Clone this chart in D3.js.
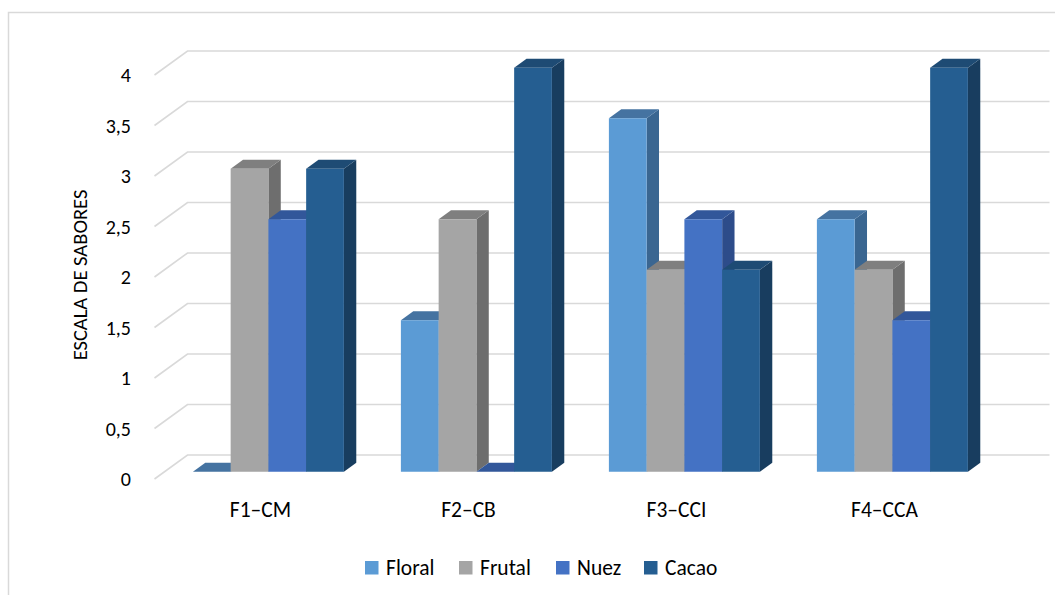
<!DOCTYPE html>
<html>
<head>
<meta charset="utf-8">
<script src="https://cdn.jsdelivr.net/npm/d3@7"></script>
<style>
  html, body { margin: 0; padding: 0; background: #fff; }
  svg { display: block; font-family: Carlito, Calibri, Lato, "Noto Sans", sans-serif; }
</style>
</head>
<body>
<svg id="chart" width="1055" height="595"></svg>
<script>
// Flavour scores per formulation
const categories = ["F1–CM", "F2–CB", "F3–CCI", "F4–CCA"];
const seriesNames = ["Floral", "Frutal", "Nuez", "Cacao"];
const floral = [0, 1.5, 3.5, 2.5];
const frutal = [3, 2.5, 2, 2];
const nuez   = [2.5, 0, 2.5, 1.5];
const cacao  = [3, 4, 2, 4];
const yTicks = [0, 0.5, 1, 1.5, 2, 2.5, 3, 3.5, 4];
const yTickLabels = ["0", "0,5", "1", "1,5", "2", "2,5", "3", "3,5", "4"];
const axisTitle = "ESCALA DE SABORES";

const seriesValues = [floral, frutal, nuez, cacao];
// front / top / side face colours for each series
const faceColors = [
  { front: "#5B9BD5", top: "#4573A1", side: "#3A6691" },
  { front: "#A5A5A5", top: "#7F7F7F", side: "#6E6E6E" },
  { front: "#4472C4", top: "#32579A", side: "#2D4C8A" },
  { front: "#255E91", top: "#1E4B74", side: "#183D5F" }
];

const svg = d3.select("#chart");

// outer chart frame
svg.append("rect")
  .attr("x", 8.5).attr("y", 12.5)
  .attr("width", 1200).attr("height", 800)
  .attr("fill", "#fff")
  .attr("stroke", "#D9D9D9").attr("stroke-width", 1.5);

// 3D projection: front plane baseline and depth vector
const frontLeft = 154.5, frontRight = 986.5;
const baseFront = 479;
const depthX = 33, depthY = -24;
const barDepth0 = 0.30, barDepth1 = 0.675;

const y = d3.scaleLinear().domain([0, 4]).range([0, 404]); // height above floor

const x0 = d3.scaleBand()
  .domain(categories)
  .range([frontLeft, frontRight])
  .paddingInner(0.274)
  .paddingOuter(0.137);

const x1 = d3.scaleBand()
  .domain(seriesNames)
  .range([0, x0.bandwidth()]);

// point on a plane at depth fraction t
function pt(x, v, t) {
  return [x + depthX * t, baseFront - y(v) + depthY * t];
}

// gridlines: left wall diagonal + back wall
const grid = svg.append("g");
yTicks.forEach(v => {
  const a = pt(frontLeft, v, 0), b = pt(frontLeft, v, 1), c = pt(frontRight + 30, v, 1);
  grid.append("path")
    .attr("d", d3.line()([a, b, c]))
    .attr("fill", "none")
    .attr("stroke", "#D9D9D9")
    .attr("stroke-width", 1.6);
});

// tick labels on the front plane
const ticksG = svg.append("g");
yTicks.forEach((v, i) => {
  ticksG.append("text")
    .attr("x", 131)
    .attr("y", baseFront - y(v))
    .attr("dy", "0.36em")
    .attr("text-anchor", "end")
    .attr("font-size", 20)
    .attr("fill", "#000")
    .text(yTickLabels[i]);
});

// axis title
svg.append("text")
  .attr("transform", "translate(80,275) rotate(-90)")
  .attr("text-anchor", "middle")
  .attr("dy", "0.36em")
  .attr("font-size", 20.5)
  .attr("fill", "#000")
  .text(axisTitle);

// bars, drawn left to right so nearer faces overlap
const barsG = svg.append("g");
categories.forEach((cat, ci) => {
  seriesNames.forEach((s, si) => {
    const v = seriesValues[si][ci];
    const xl = x0(cat) + x1(s);
    const xr = xl + x1.bandwidth();
    const col = faceColors[si];
    const g = barsG.append("g");
    const fbl = pt(xl, 0, barDepth0), fbr = pt(xr, 0, barDepth0);
    const ftl = pt(xl, v, barDepth0), ftr = pt(xr, v, barDepth0);
    const bbr = pt(xr, 0, barDepth1);
    const btl = pt(xl, v, barDepth1), btr = pt(xr, v, barDepth1);
    if (v > 0) {
      g.append("path").attr("d", d3.line()([fbr, ftr, btr, bbr]) + "Z").attr("fill", col.side);
    }
    g.append("path").attr("d", d3.line()([ftl, ftr, btr, btl]) + "Z").attr("fill", col.top);
    if (v > 0) {
      g.append("path").attr("d", d3.line()([fbl, fbr, ftr, ftl]) + "Z").attr("fill", col.front);
    }
  });
});

// category labels
categories.forEach(cat => {
  svg.append("text")
    .attr("x", x0(cat) + x0.bandwidth() / 2 + 2)
    .attr("y", 509)
    .attr("dy", "0.36em")
    .attr("text-anchor", "middle")
    .attr("font-size", 21.5)
    .attr("fill", "#000")
    .text(cat);
});

// legend
const legendX = [365, 459, 556, 644];
const legend = svg.append("g");
seriesNames.forEach((s, i) => {
  legend.append("rect")
    .attr("x", legendX[i]).attr("y", 561)
    .attr("width", 13.5).attr("height", 13.5)
    .attr("fill", faceColors[i].front);
  legend.append("text")
    .attr("x", legendX[i] + 21)
    .attr("y", 567.5)
    .attr("dy", "0.36em")
    .attr("font-size", 21.5)
    .attr("fill", "#000")
    .text(s);
});
</script>
</body>
</html>
